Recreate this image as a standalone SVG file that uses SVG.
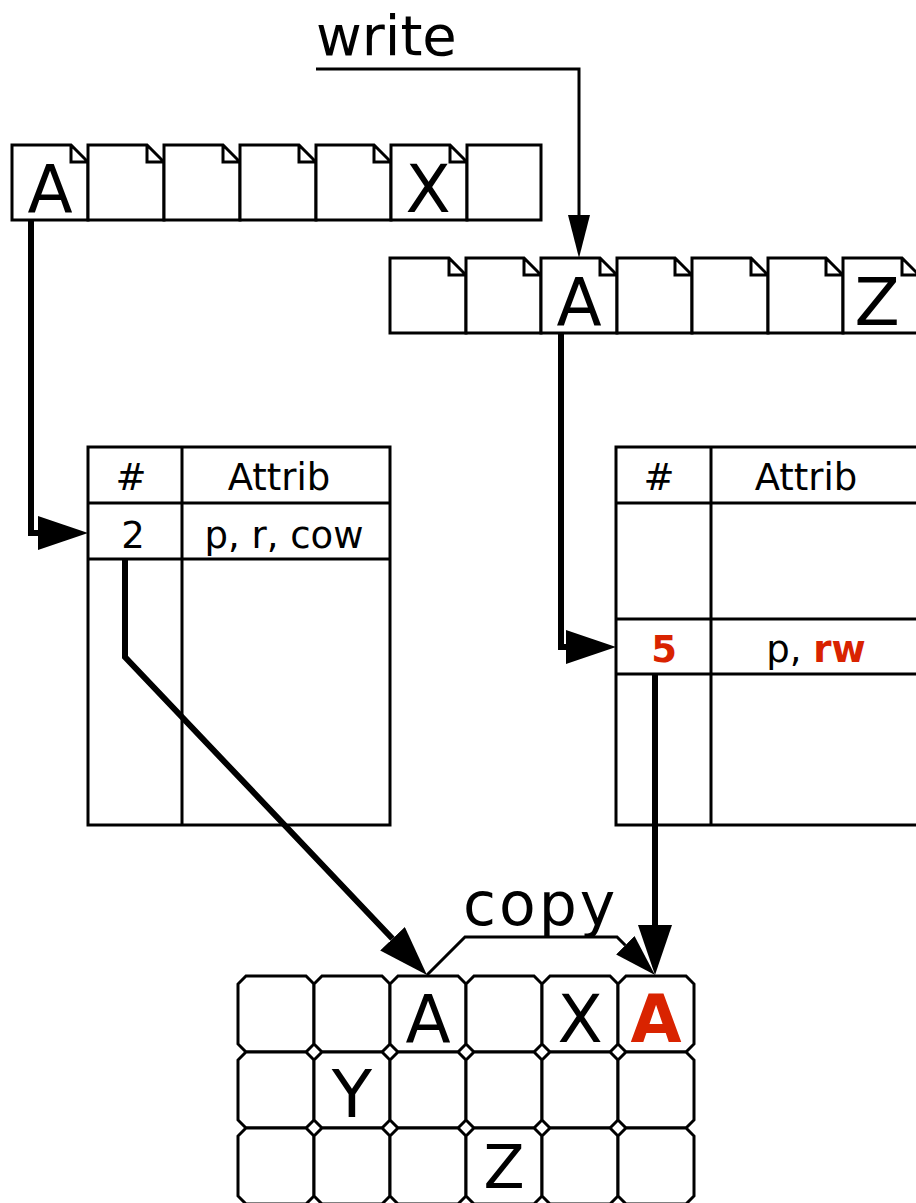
<svg xmlns="http://www.w3.org/2000/svg" width="916" height="1203" viewBox="0 0 916 1203">
<style>
.ln{fill:none;stroke:#000;stroke-width:3;stroke-linejoin:miter}
.pg{fill:#fff;stroke:#000;stroke-width:3;stroke-linejoin:miter}
.thick{fill:none;stroke:#000;stroke-width:6;stroke-linejoin:miter}
.thin{fill:none;stroke:#000;stroke-width:3}
text{font-family:"DejaVu Sans","Liberation Sans",sans-serif;fill:#000}
.big{font-size:66px;text-anchor:middle}
.tb{font-size:37px;text-anchor:middle}
.red{fill:#d92300;font-weight:bold}
.lbl{font-size:56px}
</style>
<defs>
<marker id="ah" markerUnits="userSpaceOnUse" markerWidth="50" markerHeight="34" refX="0" refY="17" orient="auto">
<path d="M0,0 L50,17 L0,34 Z" fill="#000"/>
</marker>
<marker id="as" markerUnits="userSpaceOnUse" markerWidth="42" markerHeight="26" refX="0" refY="13" orient="auto">
<path d="M0,0 L42,13 L0,26 Z" fill="#000"/>
</marker>
<marker id="aw" markerUnits="userSpaceOnUse" markerWidth="43" markerHeight="22" refX="0" refY="11" orient="auto">
<path d="M0,0 L43,11 L0,22 Z" fill="#000"/>
</marker>
</defs>

<g id="label-write"><text class="lbl" x="316" y="55">write</text></g>

<g id="pages-top">
<path class="pg" d="M12,145 L71,145 L88,162 L88,220 L12,220 Z M71,145 L71,162 L88,162"/>
<path class="pg" d="M88,145 L147,145 L164,162 L164,220 L88,220 Z M147,145 L147,162 L164,162"/>
<path class="pg" d="M164,145 L223,145 L240,162 L240,220 L164,220 Z M223,145 L223,162 L240,162"/>
<path class="pg" d="M240,145 L299,145 L316,162 L316,220 L240,220 Z M299,145 L299,162 L316,162"/>
<path class="pg" d="M316,145 L374,145 L391,162 L391,220 L316,220 Z M374,145 L374,162 L391,162"/>
<path class="pg" d="M391,145 L450,145 L467,162 L467,220 L391,220 Z M450,145 L450,162 L467,162"/>
<path class="pg" d="M467,145 L541,145 L541,220 L467,220 Z"/>
<text class="big" x="50" y="212">A</text>
<text class="big" x="428" y="212">X</text>
</g>

<g id="pages-second">
<path class="pg" d="M390,258 L449,258 L466,275 L466,333 L390,333 Z M449,258 L449,275 L466,275"/>
<path class="pg" d="M466,258 L524,258 L541,275 L541,333 L466,333 Z M524,258 L524,275 L541,275"/>
<path class="pg" d="M541,258 L600,258 L617,275 L617,333 L541,333 Z M600,258 L600,275 L617,275"/>
<path class="pg" d="M617,258 L675,258 L692,275 L692,333 L617,333 Z M675,258 L675,275 L692,275"/>
<path class="pg" d="M692,258 L751,258 L768,275 L768,333 L692,333 Z M751,258 L751,275 L768,275"/>
<path class="pg" d="M768,258 L826,258 L843,275 L843,333 L768,333 Z M826,258 L826,275 L843,275"/>
<path class="pg" d="M843,258 L902,258 L919,275 L919,333 L843,333 Z M902,258 L902,275 L919,275"/>
<text class="big" x="579" y="325">A</text>
<text class="big" x="877" y="325">Z</text>
</g>

<g id="table-left">
<rect class="ln" x="88" y="447" width="302" height="378"/>
<path class="ln" d="M88,503 L390,503 M88,559 L390,559 M182,447 L182,825"/>
<text class="tb" x="131" y="490">#</text>
<text class="tb" x="279" y="490">Attrib</text>
<text class="tb" x="133" y="548">2</text>
<text class="tb" x="284" y="548">p, r, cow</text>
</g>

<g id="table-right">
<rect class="ln" x="616" y="447" width="330" height="378"/>
<path class="ln" d="M616,503 L946,503 M616,619 L946,619 M616,674 L946,674 M711,447 L711,825"/>
<text class="tb" x="659" y="490">#</text>
<text class="tb" x="806" y="490">Attrib</text>
<text class="tb red" x="664" y="662">5</text>
<text class="tb" x="816" y="662">p, <tspan class="red">rw</tspan></text>
</g>

<g id="grid">
<path class="pg" d="M246,976 L306,976 L314,984 L314,1044 L306,1052 L246,1052 L238,1044 L238,984 Z"/>
<path class="pg" d="M322,976 L382,976 L390,984 L390,1044 L382,1052 L322,1052 L314,1044 L314,984 Z"/>
<path class="pg" d="M398,976 L458,976 L466,984 L466,1044 L458,1052 L398,1052 L390,1044 L390,984 Z"/>
<path class="pg" d="M474,976 L534,976 L542,984 L542,1044 L534,1052 L474,1052 L466,1044 L466,984 Z"/>
<path class="pg" d="M550,976 L610,976 L618,984 L618,1044 L610,1052 L550,1052 L542,1044 L542,984 Z"/>
<path class="pg" d="M626,976 L686,976 L694,984 L694,1044 L686,1052 L626,1052 L618,1044 L618,984 Z"/>
<path class="pg" d="M246,1052 L306,1052 L314,1060 L314,1120 L306,1128 L246,1128 L238,1120 L238,1060 Z"/>
<path class="pg" d="M322,1052 L382,1052 L390,1060 L390,1120 L382,1128 L322,1128 L314,1120 L314,1060 Z"/>
<path class="pg" d="M398,1052 L458,1052 L466,1060 L466,1120 L458,1128 L398,1128 L390,1120 L390,1060 Z"/>
<path class="pg" d="M474,1052 L534,1052 L542,1060 L542,1120 L534,1128 L474,1128 L466,1120 L466,1060 Z"/>
<path class="pg" d="M550,1052 L610,1052 L618,1060 L618,1120 L610,1128 L550,1128 L542,1120 L542,1060 Z"/>
<path class="pg" d="M626,1052 L686,1052 L694,1060 L694,1120 L686,1128 L626,1128 L618,1120 L618,1060 Z"/>
<path class="pg" d="M246,1128 L306,1128 L314,1136 L314,1196 L306,1204 L246,1204 L238,1196 L238,1136 Z"/>
<path class="pg" d="M322,1128 L382,1128 L390,1136 L390,1196 L382,1204 L322,1204 L314,1196 L314,1136 Z"/>
<path class="pg" d="M398,1128 L458,1128 L466,1136 L466,1196 L458,1204 L398,1204 L390,1196 L390,1136 Z"/>
<path class="pg" d="M474,1128 L534,1128 L542,1136 L542,1196 L534,1204 L474,1204 L466,1196 L466,1136 Z"/>
<path class="pg" d="M550,1128 L610,1128 L618,1136 L618,1196 L610,1204 L550,1204 L542,1196 L542,1136 Z"/>
<path class="pg" d="M626,1128 L686,1128 L694,1136 L694,1196 L686,1204 L626,1204 L618,1196 L618,1136 Z"/>
<text class="big" x="428" y="1042">A</text>
<text class="big" x="580" y="1042">X</text>
<text class="big red" x="656" y="1042">A</text>
<text class="big" x="352" y="1117">Y</text>
<text class="big" x="504" y="1188" style="font-size:60px">Z</text>
</g>

<g id="label-copy"><text class="lbl" x="463" y="925" style="font-size:60px;letter-spacing:3px">copy</text></g>

<g id="connectors">
<path class="thin" d="M316,69 L579,69 L579,215" marker-end="url(#aw)"/>
<path class="thick" d="M31,220 L31,533 L38,533" marker-end="url(#ah)"/>
<path class="thick" d="M561,333 L561,647 L566,647" marker-end="url(#ah)"/>
<path class="thick" d="M125,559 L125,657 L392.5,938.7" marker-end="url(#ah)"/>
<path class="thick" d="M655,674 L655,925" marker-end="url(#ah)"/>
<path class="thin" d="M427,975 L465,937 L617,937 L625.3,945.3" marker-end="url(#as)"/>
</g>
</svg>
